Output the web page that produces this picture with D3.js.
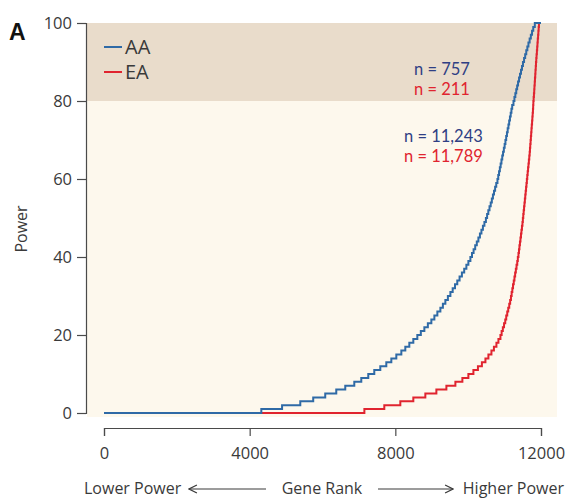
<!DOCTYPE html>
<html>
<head>
<meta charset="utf-8">
<script src="https://cdn.jsdelivr.net/npm/d3@7"></script>
<style>
  html, body { margin: 0; padding: 0; background: #ffffff; }
  svg { display: block; font-family: "Open Sans", "Noto Sans", sans-serif; }
</style>
</head>
<body>
<svg id="chart" width="565" height="499"></svg>
<script>
// Gene rank at which the estimated power steps up to 1%, 2%, ... 100%
const aaStepRanks = [
  4320, 4890, 5390, 5745, 6075, 6378, 6625, 6873, 7065, 7257,
  7422, 7587, 7752, 7890, 8027, 8165, 8274, 8384, 8494, 8604,
  8700, 8797, 8893, 8989, 9072, 9154, 9237, 9306, 9374, 9443,
  9512, 9575, 9638, 9701, 9764, 9828, 9891, 9951, 10006, 10061,
  10105, 10149, 10193, 10237, 10281, 10323, 10364, 10405, 10446, 10487,
  10520, 10553, 10586, 10619, 10650, 10680, 10710, 10740, 10771, 10804,
  10826, 10848, 10870, 10892, 10914, 10936, 10958, 10980, 11002, 11023,
  11044, 11065, 11085, 11106, 11126, 11147, 11168, 11188, 11209, 11244,
  11270, 11295, 11320, 11345, 11370, 11397, 11424, 11451, 11478, 11505,
  11535, 11565, 11595, 11625, 11655, 11688, 11721, 11754, 11787, 11830
];
const eaStepRanks = [
  7150, 7697, 8137, 8494, 8824, 9127, 9402, 9649, 9841, 10006,
  10144, 10268, 10377, 10474, 10556, 10639, 10707, 10776, 10831, 10886,
  10919, 10952, 10985, 11018, 11045, 11073, 11100, 11128, 11153, 11175,
  11194, 11213, 11232, 11252, 11271, 11290, 11309, 11328, 11348, 11364,
  11381, 11395, 11408, 11422, 11436, 11450, 11463, 11477, 11491, 11502,
  11513, 11524, 11535, 11546, 11557, 11568, 11579, 11590, 11601, 11612,
  11623, 11634, 11645, 11656, 11667, 11678, 11689, 11697, 11705, 11714,
  11722, 11730, 11738, 11746, 11755, 11763, 11771, 11779, 11785, 11790,
  11798, 11806, 11814, 11820, 11828, 11834, 11842, 11848, 11856, 11862,
  11870, 11878, 11887, 11895, 11903, 11911, 11920, 11928, 11936, 11944
];
const totalGenes = 12000;
const highPowerCut = 80;

const xTicks = [0, 4000, 8000, 12000];
const yTicks = [0, 20, 40, 60, 80, 100];

const seriesNames = ["AA", "EA"];
const countsHigh = ["n = 757", "n = 211"];
const countsLow = ["n = 11,243", "n = 11,789"];

const lineColors = { AA: "#2f6aa6", EA: "#e0242f" };
const textColors = { AA: "#2f3f84", EA: "#e0242f" };

const svg = d3.select("#chart");

const x = d3.scaleLinear().domain([0, totalGenes]).range([104, 541]);
const y = d3.scaleLinear().domain([0, 100]).range([413, 23]);

// Plot panel: pale background with the high-power band on top
const panelLeft = 87, panelRight = 557, panelBottom = 417;
svg.append("rect")
  .attr("x", panelLeft).attr("y", y(100))
  .attr("width", panelRight - panelLeft).attr("height", panelBottom - y(100))
  .attr("fill", "#fdf8ed");
svg.append("rect")
  .attr("x", panelLeft).attr("y", y(100))
  .attr("width", panelRight - panelLeft).attr("height", y(highPowerCut) - y(100))
  .attr("fill", "#e9dccb");

// Step curves of power against gene rank
function toPoints(ranks) {
  const pts = [[0, 0]];
  ranks.forEach((r, i) => pts.push([r, i + 1]));
  pts.push([totalGenes, 100]);
  return pts;
}
const line = d3.line()
  .x(d => x(d[0]))
  .y(d => y(d[1]))
  .curve(d3.curveStepAfter);

svg.append("path")
  .datum(toPoints(eaStepRanks))
  .attr("d", line)
  .attr("fill", "none")
  .attr("stroke", lineColors.EA)
  .attr("stroke-width", 2);
svg.append("path")
  .datum(toPoints(aaStepRanks))
  .attr("d", line)
  .attr("fill", "none")
  .attr("stroke", lineColors.AA)
  .attr("stroke-width", 2);

// Axes
const axisColor = "#4a4a4a";
const textColor = "#3a3a3a";
const yAxis = svg.append("g")
  .attr("transform", "translate(86,0)")
  .call(d3.axisLeft(y).tickValues(yTicks).tickSize(9).tickPadding(5));
const xAxis = svg.append("g")
  .attr("transform", "translate(0,428)")
  .call(d3.axisBottom(x).tickValues(xTicks).tickFormat(d3.format("d")).tickSize(8).tickPadding(11));
[yAxis, xAxis].forEach(g => {
  g.attr("font-size", null).attr("font-family", null);
  g.selectAll("path, line").attr("stroke", axisColor).attr("stroke-width", 1.2);
  g.selectAll("text")
    .attr("fill", textColor)
    .style("font-size", "16.5px");
});

// Axis titles
svg.append("text")
  .attr("transform", "translate(27,229) rotate(-90)")
  .attr("text-anchor", "middle")
  .attr("fill", textColor)
  .style("font-size", "16px")
  .text("Power");

const xTitle = svg.append("g").attr("fill", textColor).style("font-size", "16px");
xTitle.append("text").attr("x", 84).attr("y", 494).text("Lower Power");
xTitle.append("text").attr("x", 322).attr("y", 494).attr("text-anchor", "middle").text("Gene Rank");
xTitle.append("text").attr("x", 564).attr("y", 494).attr("text-anchor", "end").text("Higher Power");

svg.append("defs").html(
  '<marker id="arrowHead" viewBox="0 0 10 10" refX="9" refY="5" markerWidth="9" markerHeight="9" orient="auto-start-reverse">' +
  '<path d="M1,1 L9,5 L1,9" fill="none" stroke="#3a3a3a" stroke-width="1.3"/></marker>');
const arrowY = 489;
svg.append("line")
  .attr("x1", 189).attr("x2", 266).attr("y1", arrowY).attr("y2", arrowY)
  .attr("stroke", textColor).attr("stroke-width", 1.1)
  .attr("marker-start", "url(#arrowHead)");
svg.append("line")
  .attr("x1", 378).attr("x2", 453).attr("y1", arrowY).attr("y2", arrowY)
  .attr("stroke", textColor).attr("stroke-width", 1.1)
  .attr("marker-end", "url(#arrowHead)");

// Panel letter
svg.append("text")
  .attr("x", 9).attr("y", 40)
  .attr("fill", "#111")
  .style("font-size", "23px")
  .style("font-weight", "bold")
  .style("font-family", "\"Liberation Sans\", Arial, sans-serif")
  .text("A");

// Legend
const legend = svg.append("g");
seriesNames.forEach((name, i) => {
  const ly = 47 + i * 25;
  legend.append("line")
    .attr("x1", 104).attr("x2", 122).attr("y1", ly).attr("y2", ly)
    .attr("stroke", lineColors[name]).attr("stroke-width", 2);
  legend.append("text")
    .attr("x", 125).attr("y", ly + 7)
    .attr("fill", textColor)
    .style("font-size", "20px")
    .text(name);
});

// Gene counts above and below the 80% power threshold
const countFont = "Lato, \"Open Sans\", sans-serif";
seriesNames.forEach((name, i) => {
  svg.append("text")
    .attr("x", 414).attr("y", 75 + i * 20)
    .attr("fill", textColors[name])
    .style("font-family", countFont)
    .style("font-size", "16.5px")
    .text(countsHigh[i]);
  svg.append("text")
    .attr("x", 404).attr("y", 142 + i * 20)
    .attr("fill", textColors[name])
    .style("font-family", countFont)
    .style("font-size", "16.5px")
    .text(countsLow[i]);
});
</script>
</body>
</html>
